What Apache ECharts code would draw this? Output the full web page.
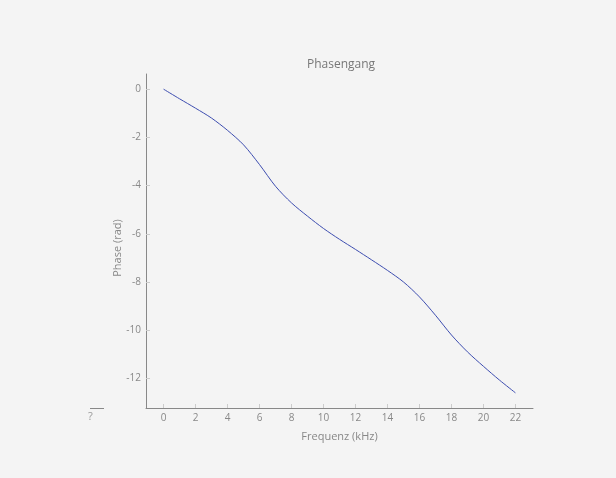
<!DOCTYPE html>
<html>
<head>
<meta charset="utf-8">
<script src="https://cdn.jsdelivr.net/npm/echarts@6/dist/echarts.min.js"></script>
<style>
html,body{margin:0;padding:0;background:#f4f4f4;}
#chart{width:616px;height:478px;}
</style>
</head>
<body>
<div id="chart"></div>
<script>
const frequencies = [0,1,2,3,4,5,6,7,8,9,10,11,12,13,14,15,16,17,18,19,20,21,22];
const phases = [0,-0.40,-0.79,-1.20,-1.71,-2.31,-3.13,-4.03,-4.72,-5.27,-5.78,-6.23,-6.65,-7.08,-7.52,-8.00,-8.62,-9.38,-10.20,-10.90,-11.50,-12.07,-12.60];
const xTicks = [0,2,4,6,8,10,12,14,16,18,20,22];
const yTicks = [0,-2,-4,-6,-8,-10,-12];
const titleText = 'Phasengang';
const xName = 'Frequenz (kHz)';
const yName = 'Phase (rad)';

const font = "'Open Sans', 'Noto Sans', sans-serif";
const chart = echarts.init(document.getElementById('chart'));
chart.setOption({
  backgroundColor: '#f4f4f4',
  animation: false,
  title: {
    text: titleText, left: 336, top: 54, textAlign: 'center',
    textStyle: {fontFamily: font, fontSize: 12, fontWeight: 'normal', color: '#777'}
  },
  grid: {left: 146, right: 83, top: 74, bottom: 70},
  xAxis: {
    type: 'value', min: -1.1, max: 23.1,
    name: xName, nameLocation: 'middle', nameGap: 23, nameMoveOverlap: false,
    nameTextStyle: {fontFamily: font, fontSize: 11, color: '#888'},
    axisLine: {show: true, onZero: false, lineStyle: {color: '#888', width: 1}},
    axisTick: {show: true, inside: true, length: 4, customValues: xTicks, lineStyle: {color: '#ccc'}},
    axisLabel: {customValues: xTicks, fontFamily: font, fontSize: 10, color: '#888', margin: 5},
    splitLine: {show: false}
  },
  yAxis: {
    type: 'value', min: -13.23, max: 0.63,
    name: yName, nameLocation: 'middle', nameGap: 23, nameMoveOverlap: false,
    nameTextStyle: {fontFamily: font, fontSize: 11, color: '#888', padding: [0, 14, 0, 0]},
    axisLine: {show: true, onZero: false, lineStyle: {color: '#888', width: 1}},
    axisTick: {show: true, inside: true, length: 4, customValues: yTicks, lineStyle: {color: '#ccc'}},
    axisLabel: {customValues: yTicks, fontFamily: font, fontSize: 10, color: '#888', margin: 5},
    splitLine: {show: false}
  },
  graphic: [
    {type: 'line', shape: {x1: 90, y1: 408.5, x2: 104, y2: 408.5}, style: {stroke: '#888', lineWidth: 1}},
    {type: 'text', x: 88, y: 411, style: {text: '?', fontFamily: font, fontSize: 11, fill: '#999'}}
  ],
  series: [{
    type: 'line',
    data: frequencies.map((f, i) => [f, phases[i]]),
    smooth: 0.3,
    showSymbol: false,
    lineStyle: {color: '#3d4db0', width: 1}
  }]
});
</script>
</body>
</html>
